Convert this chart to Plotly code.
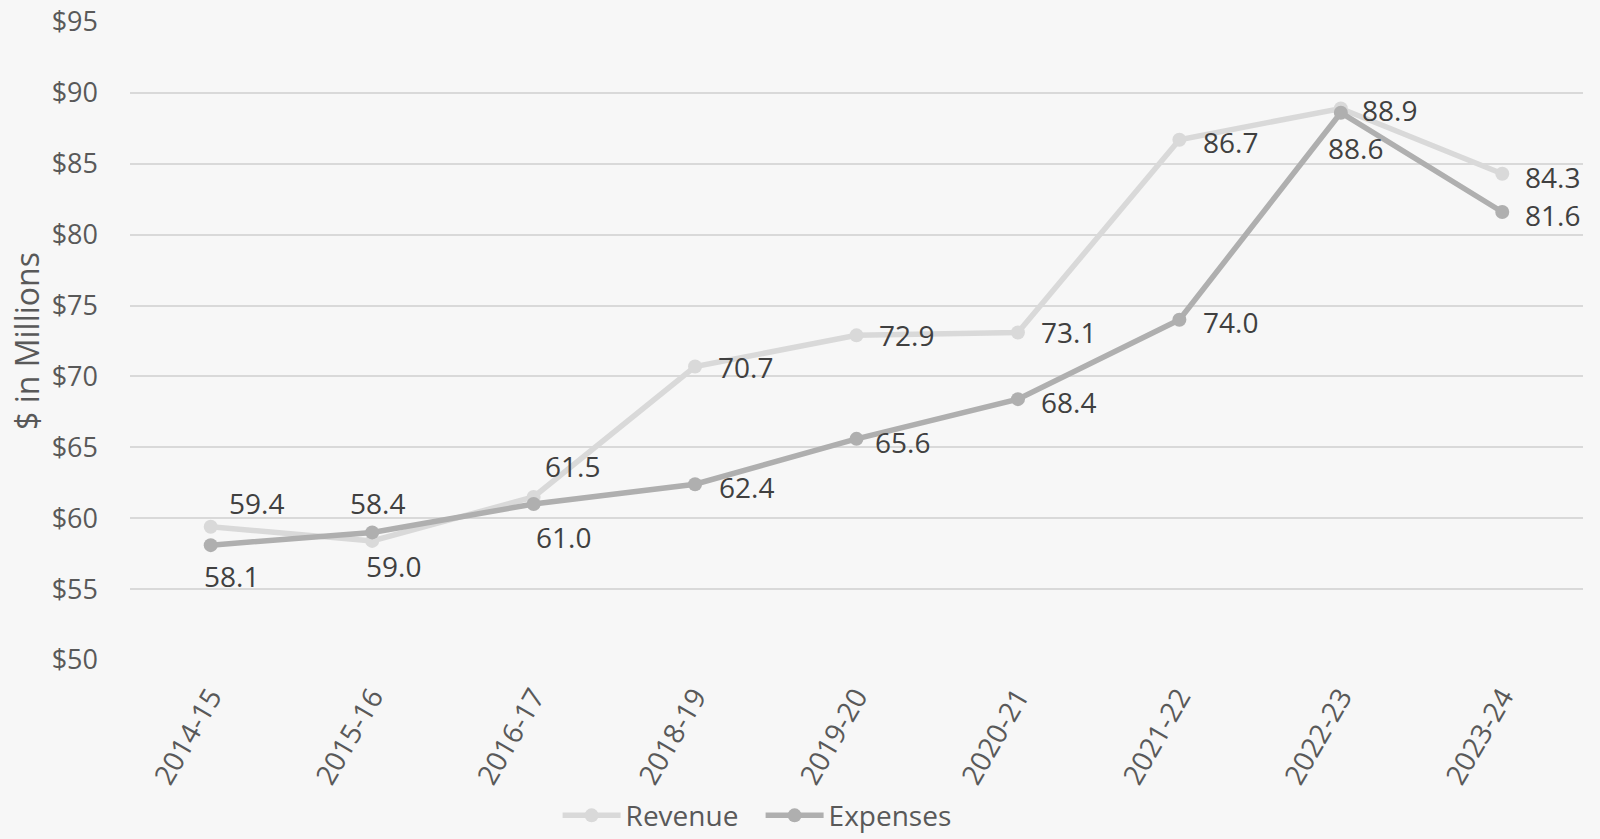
import plotly.graph_objects as go

categories = ["2014-15", "2015-16", "2016-17", "2018-19", "2019-20",
              "2020-21", "2021-22", "2022-23", "2023-24"]
revenue = [59.4, 58.4, 61.5, 70.7, 72.9, 73.1, 86.7, 88.9, 84.3]
expenses = [58.1, 59.0, 61.0, 62.4, 65.6, 68.4, 74.0, 88.6, 81.6]
y_ticks = [50, 55, 60, 65, 70, 75, 80, 85, 90, 95]
y_tick_labels = ["$" + str(v) for v in y_ticks]

# label offsets (pixels) per point
rev_shift = [(46, 24), (5, 38), (39, 31), (50, 0), (50, 0), (51, 0), (51, -2), (49, -2), (50, -3)]
exp_shift = [(21, -31), (21, -34), (30, -33), (51, -3), (46, -3), (51, -3), (51, -2), (15, -35), (50, -3)]

REV_COLOR = "#d9d9d9"
EXP_COLOR = "#afafaf"
FONT = "Open Sans"

fig = go.Figure()
fig.add_trace(go.Scatter(
    x=categories, y=revenue, name="Revenue", mode="lines+markers",
    line=dict(color=REV_COLOR, width=5.5),
    marker=dict(color=REV_COLOR, size=14),
))
fig.add_trace(go.Scatter(
    x=categories, y=expenses, name="Expenses", mode="lines+markers",
    line=dict(color=EXP_COLOR, width=5.5),
    marker=dict(color=EXP_COLOR, size=14),
))

for vals, shifts in ((revenue, rev_shift), (expenses, exp_shift)):
    for c, v, (dx, dy) in zip(categories, vals, shifts):
        fig.add_annotation(
            x=c, y=v, text=f"{v:.1f}", showarrow=False,
            xanchor="center", yanchor="middle",
            xshift=dx, yshift=dy,
            font=dict(family=FONT, size=28, color="#404040"),
        )

fig.update_layout(
    width=1600, height=839,
    paper_bgcolor="#f7f7f7", plot_bgcolor="#f7f7f7",
    margin=dict(l=130, r=17, t=22, b=179, autoexpand=False),
    font=dict(family=FONT, size=27, color="#595959"),
    showlegend=True,
    legend=dict(
        orientation="h", x=0.434, xanchor="center", y=-0.244, yanchor="middle",
        font=dict(family=FONT, size=28, color="#595959"),
        itemwidth=58, tracegroupgap=0, bgcolor="rgba(0,0,0,0)",
        entrywidth=130, entrywidthmode="pixels",
    ),
)
fig.update_xaxes(
    type="category", range=[-0.5, len(categories) - 0.5],
    tickangle=-60, showgrid=False, zeroline=False, showline=False,
    ticks="", automargin=False, ticklabelstandoff=14,
    tickfont=dict(family=FONT, size=28, color="#595959"),
)
fig.update_yaxes(
    range=[50, 95], tickvals=y_ticks, ticktext=y_tick_labels,
    showgrid=True, gridcolor="#d9d9d9", gridwidth=2, zeroline=False,
    showline=False, ticks="", ticklabelstandoff=31, automargin=False,
    tickfont=dict(family=FONT, size=27, color="#595959"),
    title=dict(text="$ in Millions", font=dict(family=FONT, size=32, color="#595959"), standoff=2),
)

fig.write_html("out.html")
